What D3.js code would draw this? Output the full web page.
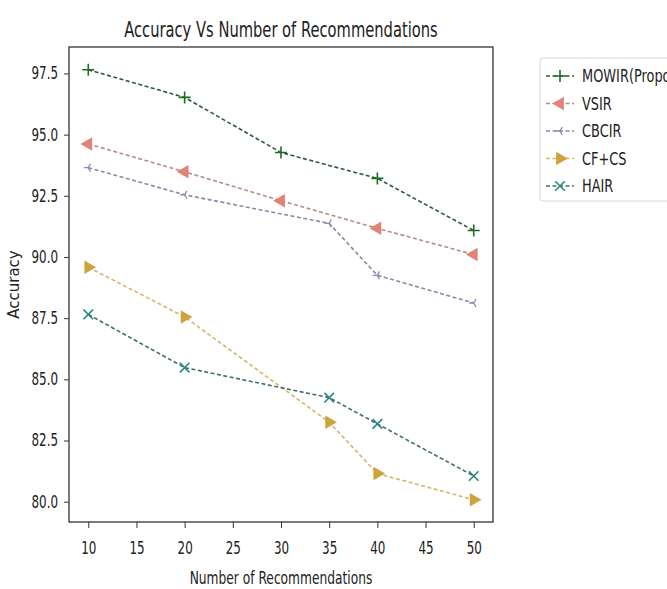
<!DOCTYPE html>
<html>
<head>
<meta charset="utf-8">
<script src="https://cdn.jsdelivr.net/npm/d3@7"></script>
<style>
  body { margin: 0; background: #fff; }
  svg text { font-family: "DejaVu Sans", sans-serif; fill: #222; }
</style>
</head>
<body>
<div id="chart"></div>
<script>
// ---------------- data ----------------
const seriesNames = ["MOWIR(Proposed)", "VSIR", "CBCIR", "CF+CS", "HAIR"];
const xMowir = [10, 20, 30, 40, 50];
const yMowir = [97.65, 96.52, 94.27, 93.21, 91.08];
const xVsir = [10, 20, 30, 40, 50];
const yVsir = [94.62, 93.48, 92.3, 91.17, 90.1];
const xCbcir = [10, 20, 35, 40, 50];
const yCbcir = [93.65, 92.54, 91.37, 89.25, 88.12];
const xCfcs = [10, 20, 35, 40, 50];
const yCfcs = [89.58, 87.55, 83.25, 81.15, 80.08];
const xHair = [10, 20, 35, 40, 50];
const yHair = [87.65, 85.48, 84.25, 83.18, 81.05];
const xTicks = [10, 15, 20, 25, 30, 35, 40, 45, 50];
const yTicks = [80.0, 82.5, 85.0, 87.5, 90.0, 92.5, 95.0, 97.5];

const colors = ["#1e6b2a", "#e2837a", "#9186b8", "#cfa33c", "#2a8585"];
const lineColors = ["#2f5a35", "#b98a88", "#8e88a8", "#d6b66a", "#3e6e70"];
const markers = ["plus", "triLeft", "tri", "triRight", "x"];

const series = seriesNames.map((name, i) => {
  const xs = [xMowir, xVsir, xCbcir, xCfcs, xHair][i];
  const ys = [yMowir, yVsir, yCbcir, yCfcs, yHair][i];
  return { name, color: colors[i], line: lineColors[i], marker: markers[i],
           values: xs.map((x, j) => ({ x, y: ys[j] })) };
});

// ---------------- layout ----------------
const width = 667, height = 589;
const margin = { top: 47, right: 174, bottom: 67, left: 69 };
const innerW = width - margin.left - margin.right;
const innerH = height - margin.top - margin.bottom;

const svg = d3.select("#chart").append("svg")
  .attr("width", width).attr("height", height);

const g = svg.append("g")
  .attr("transform", `translate(${margin.left},${margin.top})`);

const x = d3.scaleLinear().domain([8, 52]).range([0, innerW]);
const y = d3.scaleLinear().domain([79.17, 98.58]).range([innerH, 0]);

// squeeze text horizontally (the reference font is narrow)
const squeeze = (sel, k) => sel.each(function () {
  const len = this.getComputedTextLength();
  d3.select(this).attr("textLength", len * k).attr("lengthAdjust", "spacingAndGlyphs");
});

// ---------------- axes ----------------
const xAxis = g.append("g")
  .attr("transform", `translate(0,${innerH})`)
  .call(d3.axisBottom(x).tickValues(xTicks).tickSize(6).tickPadding(14).tickFormat(d3.format("d")));
const yAxis = g.append("g")
  .call(d3.axisLeft(y).tickValues(yTicks).tickSize(5).tickPadding(6).tickFormat(d3.format(".1f")));

[xAxis, yAxis].forEach((a) => {
  a.select(".domain").remove();
  a.selectAll(".tick line").attr("stroke", "#333").attr("stroke-width", 1);
  a.selectAll(".tick text").attr("font-size", 17).style("font-family", "DejaVu Sans").attr("fill", "#333");
  squeeze(a.selectAll(".tick text"), 0.7);
});

// frame
g.append("rect")
  .attr("width", innerW).attr("height", innerH)
  .attr("fill", "none").attr("stroke", "#333").attr("stroke-width", 1.3);

// ---------------- lines ----------------
const line = d3.line().x((d) => x(d.x)).y((d) => y(d.y));

series.forEach((s) => {
  g.append("path")
    .datum(s.values)
    .attr("d", line)
    .attr("fill", "none")
    .attr("stroke", s.line)
    .attr("stroke-width", 1.6)
    .attr("stroke-dasharray", "4,2.5");
});

// marker drawing
const drawMarker = (sel, type, color, size) => {
  const r = size / 2;
  if (type === "plus") {
    sel.append("path").attr("d", `M${-r},0H${r}M0,${-r}V${r}`)
      .attr("stroke", color).attr("stroke-width", 1.6).attr("fill", "none");
  } else if (type === "x") {
    const q = r * 0.8;
    sel.append("path").attr("d", `M${-q},${-q}L${q},${q}M${-q},${q}L${q},${-q}`)
      .attr("stroke", color).attr("stroke-width", 1.6).attr("fill", "none");
  } else if (type === "tri") {
    // tri_left style spokes
    const a = r * 0.9;
    sel.append("path")
      .attr("d", `M0,0L${-a},0M0,0L${a * 0.5},${-a * 0.87}M0,0L${a * 0.5},${a * 0.87}`)
      .attr("stroke", color).attr("stroke-width", 1.3).attr("fill", "none");
  } else {
    const rot = type === "triLeft" ? -90 : 90;
    sel.append("path")
      .attr("d", d3.symbol().type(d3.symbolTriangle).size(size * size * 0.55)())
      .attr("transform", `rotate(${rot})`)
      .attr("fill", color);
  }
};

series.forEach((s) => {
  s.values.forEach((d) => {
    const m = g.append("g").attr("transform", `translate(${x(d.x)},${y(d.y)})`);
    drawMarker(m, s.marker, s.color, s.marker === "tri" ? 10 : 12);
  });
});

// ---------------- labels ----------------
const title = svg.append("text")
  .attr("x", margin.left + innerW / 2).attr("y", 37)
  .attr("text-anchor", "middle").attr("font-size", 21)
  .text("Accuracy Vs Number of Recommendations");
squeeze(title, 0.7);

const xLabel = svg.append("text")
  .attr("x", margin.left + innerW / 2).attr("y", 584)
  .attr("text-anchor", "middle").attr("font-size", 17)
  .text("Number of Recommendations");
squeeze(xLabel, 0.72);

const yLabel = svg.append("text")
  .attr("transform", `translate(19,${margin.top + innerH / 2}) rotate(-90)`)
  .attr("text-anchor", "middle").attr("font-size", 15)
  .text("Accuracy");

// ---------------- legend ----------------
const legend = svg.append("g").attr("transform", "translate(540,58)");
legend.append("rect")
  .attr("width", 160).attr("height", 143).attr("rx", 3)
  .attr("fill", "#fff").attr("stroke", "#d6d6d6");

series.forEach((s, i) => {
  const row = legend.append("g").attr("transform", `translate(0,${18 + i * 27.5})`);
  row.append("line")
    .attr("x1", 6).attr("x2", 34).attr("y1", 0).attr("y2", 0)
    .attr("stroke", s.line).attr("stroke-width", 1.6).attr("stroke-dasharray", "4,2.5");
  const m = row.append("g").attr("transform", "translate(20,0)");
  drawMarker(m, s.marker, s.color, s.marker === "tri" ? 10 : 12);
  const t = row.append("text")
    .attr("x", 42).attr("y", 6).attr("font-size", 17)
    .text(s.name);
  squeeze(t, 0.76);
});
</script>
</body>
</html>
